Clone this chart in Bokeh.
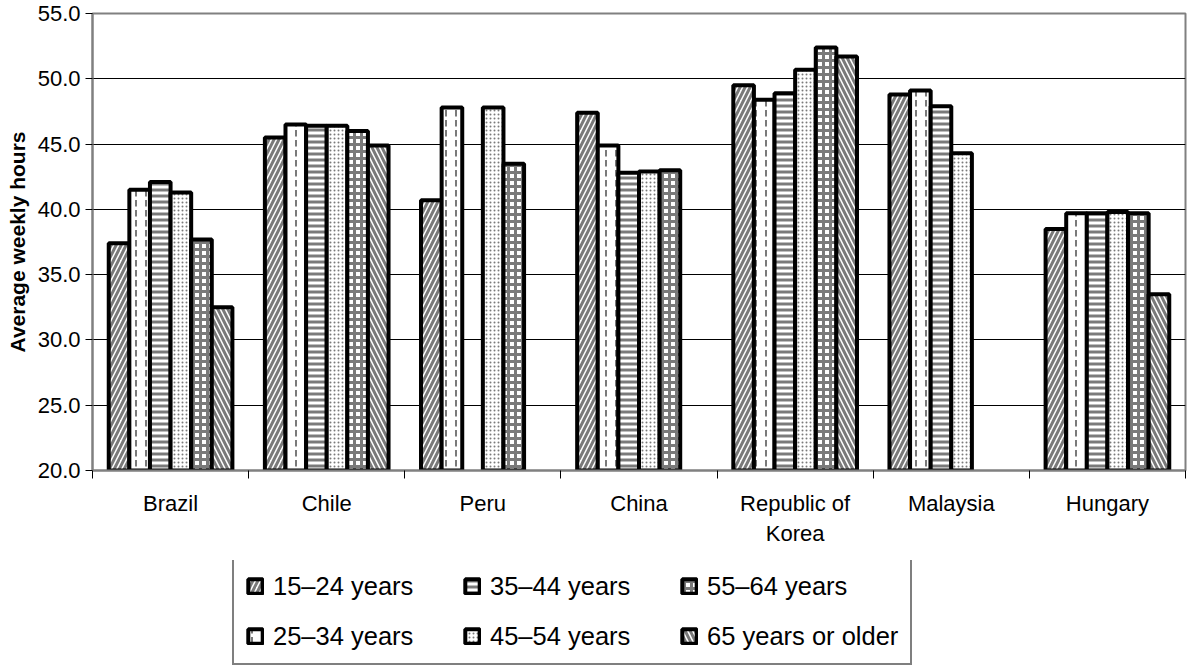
import numpy as np
from bokeh.plotting import figure
from bokeh.layouts import column
from bokeh.models import (ColumnDataSource, FixedTicker, Legend, LegendItem,
                          PrintfTickFormatter, Range1d)
from bokeh.embed import file_html
from bokeh.resources import INLINE

countries = ["Brazil", "Chile", "Peru", "China", "Republic of\nKorea", "Malaysia", "Hungary"]
series = ["15–24 years", "25–34 years", "35–44 years", "45–54 years", "55–64 years", "65 years or older"]
nan = float("nan")
age_15_24 = [37.4, 45.5, 40.7, 47.4, 49.5, 48.8, 38.5]
age_25_34 = [41.5, 46.5, 47.8, 44.9, 48.4, 49.1, 39.7]
age_35_44 = [42.1, 46.4, nan, 42.8, 48.9, 47.9, 39.7]
age_45_54 = [41.3, 46.4, 47.8, 42.9, 50.7, 44.3, 39.8]
age_55_64 = [37.7, 46.0, 43.5, 43.0, 52.4, nan, 39.7]
age_65_up = [32.5, 44.9, nan, nan, 51.7, nan, 33.5]
values = [age_15_24, age_25_34, age_35_44, age_45_54, age_55_64, age_65_up]
y_ticks = [20, 25, 30, 35, 40, 45, 50, 55]

hatches = ["right_diagonal_line", "vertical_dash", "horizontal_line", "dot", "cross", "left_diagonal_line"]
hatch_scales = [10, 10, 6, 4, 7, 10]
hatch_weights = [3, 2, 3, 1.5, 3, 3]

FONT = "Liberation Sans"
p = figure(frame_width=1093, frame_height=457, output_backend="svg", toolbar_location=None,
           x_range=Range1d(0, len(countries)), y_range=Range1d(20, 55),
           min_border_left=92, min_border_right=2, min_border_top=13, min_border_bottom=90)
p.outline_line_color = "#808080"
p.outline_line_width = 2

# separate strip holding only the legend (below the chart)
lg = figure(width=1187, height=106, output_backend="svg", toolbar_location=None,
            x_axis_type=None, y_axis_type=None,
            x_range=Range1d(100, 101), y_range=Range1d(-10, -9),
            min_border_left=0, min_border_right=0, min_border_top=0, min_border_bottom=0)
lg.outline_line_color = None
lg.xgrid.grid_line_color = None
lg.ygrid.grid_line_color = None

centers = np.arange(len(countries)) + 0.5
bw = 0.132
items = []
for k, (name, vals) in enumerate(zip(series, values)):
    src = ColumnDataSource(dict(x=centers + (k - 2.5) * bw, top=vals))
    style = dict(x="x", top="top", bottom=20, width=bw, source=src,
                 fill_color="white", line_color="black", line_width=4,
                 hatch_pattern=hatches[k], hatch_color="#7a7a7a",
                 hatch_scale=hatch_scales[k], hatch_weight=hatch_weights[k])
    p.vbar(**style)
    r = lg.vbar(visible=False, **style)  # only used for the legend swatches
    items.append(LegendItem(label=name, renderers=[r]))

# y axis
p.yaxis.ticker = FixedTicker(ticks=y_ticks)
p.yaxis.formatter = PrintfTickFormatter(format="%.1f")
p.yaxis.axis_label = "Average weekly hours"
p.yaxis.axis_label_text_font = FONT
p.yaxis.axis_label_text_font_style = "bold"
p.yaxis.axis_label_text_font_size = "21px"
p.yaxis.axis_label_text_color = "black"
p.yaxis.axis_label_standoff = 6
p.yaxis.major_label_text_font = FONT
p.yaxis.major_label_text_font_size = "22px"
p.yaxis.major_label_text_color = "black"
p.yaxis.major_label_standoff = 5
p.yaxis.axis_line_color = "#808080"
p.yaxis.axis_line_width = 2
p.yaxis.major_tick_in = 0
p.yaxis.major_tick_out = 7
p.yaxis.major_tick_line_color = "black"
p.yaxis.minor_tick_line_color = None

# x axis
p.xaxis.ticker = FixedTicker(ticks=list(centers), minor_ticks=list(range(len(countries) + 1)))
p.xaxis.major_label_overrides = {float(c): n for c, n in zip(centers, countries)}
p.xaxis.major_label_text_font = FONT
p.xaxis.major_label_text_font_size = "22px"
p.xaxis.major_label_text_color = "black"
p.xaxis.major_label_standoff = 12
p.xaxis.major_tick_in = 0
p.xaxis.major_tick_out = 0
p.xaxis.minor_tick_in = 0
p.xaxis.minor_tick_out = 8
p.xaxis.minor_tick_line_color = "black"
p.xaxis.axis_line_color = "#808080"
p.xaxis.axis_line_width = 2

p.xgrid.grid_line_color = None
p.ygrid.grid_line_color = "black"
p.ygrid.grid_line_width = 1

legend = Legend(items=items, nrows=2, orientation="vertical",
                location=(140, 1))
legend.label_text_font = FONT
legend.label_text_font_size = "25.5px"
legend.label_text_color = "black"
legend.glyph_width = 18
legend.glyph_height = 18
legend.label_height = 30
legend.label_width = 170
legend.label_standoff = 9
legend.spacing = 20
legend.padding = 12
legend.margin = 0
legend.inactive_fill_alpha = 0
legend.border_line_color = "black"
legend.border_line_width = 2
legend.background_fill_color = "white"
lg.add_layout(legend, "center")

open("out.html", "w").write(file_html(column(p, lg, spacing=0), INLINE))
